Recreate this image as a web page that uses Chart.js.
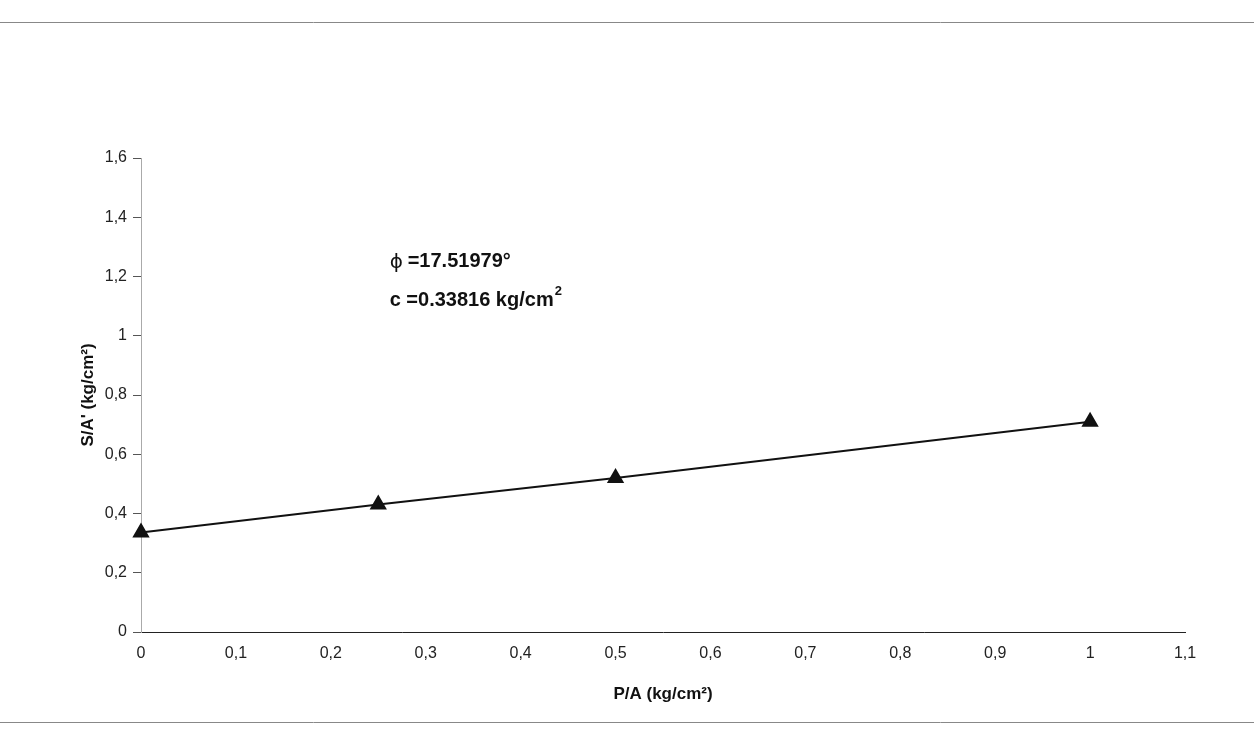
<!DOCTYPE html>
<html>
<head>
<meta charset="utf-8">
<script src="https://cdn.jsdelivr.net/npm/chart.js@4/dist/chart.umd.min.js"></script>
<style>
  html, body { margin: 0; padding: 0; background: #fff; }
  #wrap { width: 1254px; height: 740px; }
</style>
</head>
<body>
<div id="wrap"><canvas id="shearCanvas" width="1254" height="740"></canvas></div>
<script>
// Ensayo de corte directo
const presion = [0, 0.25, 0.5, 1];          // P/A (kg/cm2)
const corte = [0.336, 0.43, 0.52, 0.71];    // S/A' (kg/cm2)
const ticksX = [0, 0.1, 0.2, 0.3, 0.4, 0.5, 0.6, 0.7, 0.8, 0.9, 1, 1.1];
const ticksY = [0, 0.2, 0.4, 0.6, 0.8, 1, 1.2, 1.4, 1.6];
const notaPhi = "=17.51979°";
const notaC = "c =0.33816 kg/cm";

const coma = v => String(Math.round(v * 10) / 10).replace(".", ",");

const notas = {
  id: "notas",
  afterDraw(chart) {
    const ctx = chart.ctx;
    const x = chart.scales.x.getPixelForValue(0.262);
    const y1 = chart.scales.y.getPixelForValue(1.25);
    const y2 = chart.scales.y.getPixelForValue(1.12);
    ctx.save();
    ctx.fillStyle = "#111";
    ctx.textBaseline = "middle";
    ctx.font = "20px 'DejaVu Sans'";
    ctx.fillText("ϕ", x, y1 + 1);
    ctx.font = "bold 20px 'Liberation Sans', Arial";
    ctx.fillText(notaPhi, x + 18, y1);
    ctx.fillText(notaC, x, y2);
    const w = ctx.measureText(notaC).width;
    ctx.font = "bold 13px 'Liberation Sans', Arial";
    ctx.fillText("2", x + w + 1, y2 - 9);
    // marco del grafico escaneado
    ctx.strokeStyle = "#888";
    ctx.lineWidth = 1;
    ctx.beginPath();
    ctx.moveTo(0, 22.5); ctx.lineTo(1254, 22.5);
    ctx.moveTo(0, 722.5); ctx.lineTo(1254, 722.5);
    ctx.stroke();
    ctx.restore();
  }
};

new Chart(document.getElementById("shearCanvas"), {
  type: "scatter",
  data: {
    datasets: [{
      data: presion.map((p, i) => ({ x: p, y: corte[i] })),
      showLine: true,
      clip: false,
      borderColor: "#111",
      backgroundColor: "#111",
      borderWidth: 2,
      pointStyle: "triangle",
      pointRadius: 8,
      pointHoverRadius: 8,
      tension: 0,
    }],
  },
  options: {
    responsive: false,
    animation: false,
    layout: { padding: { left: 0, top: 158, right: 69, bottom: 0 } },
    plugins: { legend: { display: false }, tooltip: { enabled: false } },
    scales: {
      x: {
        type: "linear",
        min: 0,
        max: 1.1,
        afterBuildTicks: s => { s.ticks = ticksX.map(v => ({ value: v })); },
        afterFit: s => { s.height = 108; },
        grid: { display: false, drawTicks: false },
        border: { display: true, color: "#222", width: 1 },
        ticks: {
          color: "#222",
          font: { family: "'Liberation Sans', Arial", size: 16 },
          padding: 12,
          maxRotation: 0,
          callback: v => coma(v),
        },
        title: {
          display: true,
          text: "P/A (kg/cm²)",
          color: "#111",
          font: { family: "'Liberation Sans', Arial", size: 17, weight: "bold" },
          padding: { top: 4, bottom: 35 },
        },
      },
      y: {
        type: "linear",
        min: 0,
        max: 1.6,
        afterBuildTicks: s => { s.ticks = ticksY.map(v => ({ value: v })); },
        afterFit: s => { s.width = 141; },
        grid: { drawOnChartArea: false, drawTicks: true, tickLength: 8, color: "#555" },
        border: { display: true, color: "#aaa", width: 1, dash: [2, 3] },
        ticks: {
          color: "#222",
          font: { family: "'Liberation Sans', Arial", size: 16 },
          padding: 6,
          callback: v => coma(v),
        },
        title: {
          display: true,
          text: "S/A' (kg/cm²)",
          color: "#111",
          font: { family: "'Liberation Sans', Arial", size: 17, weight: "bold" },
          padding: { top: 78 },
        },
      },
    },
  },
  plugins: [notas],
});
</script>
</body>
</html>
